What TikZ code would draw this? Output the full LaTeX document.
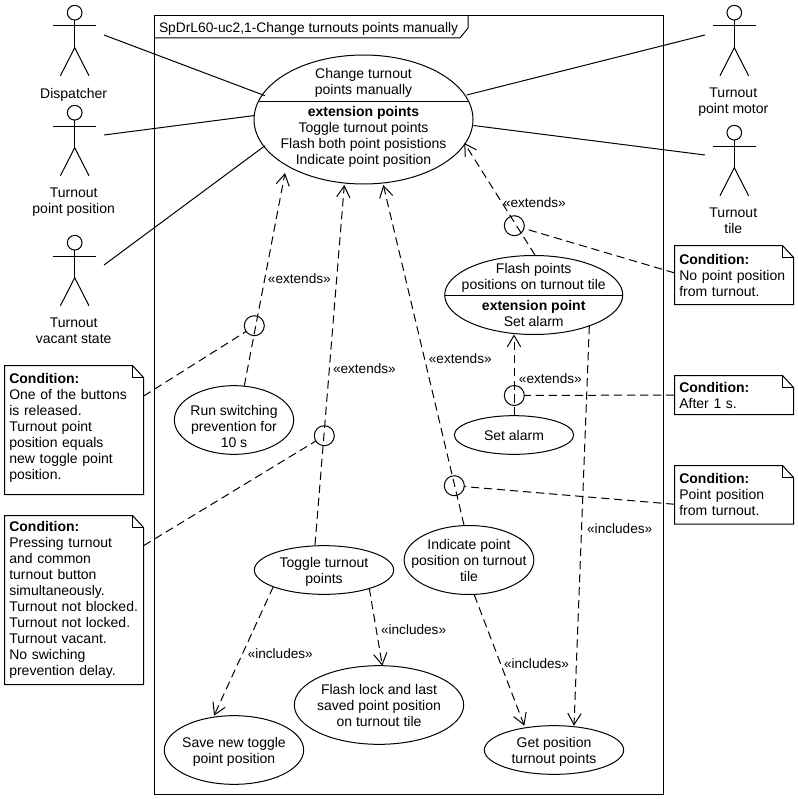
\documentclass[tikz,border=0pt]{standalone}
\usepackage{fontspec}
\setmainfont{Liberation Sans}
\usetikzlibrary{shapes.geometric,arrows.meta}

\begin{document}
\begin{tikzpicture}[x=0.75pt,y=-0.75pt,line width=0.75pt,>={Straight Barb[length=8.5pt,width=10pt]},
    font=\fontsize{10.5}{12}\selectfont,every node/.style={outer sep=0pt}]
\tikzstyle{usecase} = [draw, ellipse, inner sep=-12pt, align=center]
\tikzstyle{extpoint} = [draw, circle, inner sep=0pt, minimum size=15pt]
\tikzstyle{head} = [draw, circle, inner sep=0pt, minimum size=11pt]
\tikzstyle{actorname} = [anchor=north, inner sep=0pt, align=center]
\tikzstyle{notebox} = [anchor=north west, inner xsep=3.6pt, inner ysep=0pt, align=left]
\tikzstyle{dep} = [dash pattern=on 6.2pt off 3.6pt]
\tikzstyle{stereo} = [inner sep=0pt, yshift=-0.75pt, font=\fontsize{10.2}{12}\selectfont, solid]

\def\actor#1#2#3#4{
\node[head] (#1) at (#2,#3) {};
\draw (#1.south) -- ++(0,27.7) coordinate (#1hip);
\draw (#2-21.3,#3+13.3) -- (#2+21.3,#3+13.3);
\draw (#2-14.3,#3+63) -- (#1hip) -- (#2+14.3,#3+63);
\node[actorname] (#1name) at (#2-1,#3+75.5) {#4};
}

\def\notefold#1{
\draw ([xshift=-8.25pt]#1.north east) -- ([xshift=-8.25pt,yshift=-9pt]#1.north east) -- ([yshift=-9pt]#1.north east);
\draw (#1.south west) -- (#1.north west) -- ([xshift=-8.25pt]#1.north east) -- ([yshift=-9pt]#1.north east) -- (#1.south east) -- cycle;
}

\useasboundingbox (0,0) rectangle (798,799);

    % The frame and its title tab
    \node[draw, anchor=north west, inner sep=0pt, minimum width=381.75pt, minimum height=584.25pt] (frame) at (154.5,15.5) {};
    \node[anchor=west, inner sep=0pt, font=\fontsize{10.35}{12}\selectfont] (title) at (159,29) {SpDrL60-uc2,1-Change turnouts points manually};
    \coordinate (tabcorner) at (468,28);
    \coordinate (tabfoot) at (460,38);
    \draw (frame.north west -| tabcorner) -- (tabcorner) -- (tabfoot) -- (tabfoot -| frame.west);

    % Actors on both sides
    \actor{dispatcher}{74.7}{12.7}{Dispatcher}
    \actor{position}{74.7}{112.7}{Turnout\\point position}
    \actor{vacant}{74.7}{242.7}{Turnout\\vacant state}
    \actor{motor}{734.3}{12.7}{Turnout\\point motor}
    \actor{tile}{734.3}{132.7}{Turnout\\tile}

    % Use cases
    \node[usecase, minimum width=164.25pt, minimum height=96.75pt] (main) at (363.5,119.5)
        {Change turnout\\points manually\\[4.5pt]\textbf{extension points}\\Toggle turnout points\\Flash both point posistions\\Indicate point position\\[-7.9pt]\mbox{}};
    \node[usecase, minimum width=133.5pt, minimum height=59.25pt] (flash) at (533.7,295)
        {Flash points\\positions on turnout tile\\[3.75pt]\textbf{extension point}\\Set alarm};
    \node[usecase, minimum width=89.5pt, minimum height=29pt] (alarm) at (514,435) {Set alarm};
    \node[usecase, minimum width=89.5pt, minimum height=51.5pt] (run) at (234,420) {\mbox{}\\[5pt]Run switching\\prevention for\\10 s};
    \node[usecase, minimum width=97.25pt, minimum height=51.75pt] (indicate) at (469,560) {Indicate point\\position on turnout\\tile};
    \node[usecase, minimum width=104.5pt, minimum height=36.5pt] (toggle) at (324,570) {\mbox{}\\[-1pt]Toggle turnout\\points};
    \node[usecase, minimum width=104.5pt, minimum height=51.5pt] (save) at (234,750) {\mbox{}\\[-1pt]Save new toggle\\point position};
    \node[usecase, minimum width=127pt, minimum height=59pt] (lock) at (379,705) {Flash lock and last\\saved point position\\on turnout tile};
    \node[usecase, minimum width=104.5pt, minimum height=36.5pt] (get) at (554,750) {\mbox{}\\[-1pt]Get position\\turnout points};
    \draw ([shift={(-105.2,-18)}]main.center) -- ([shift={(105.2,-18)}]main.center);
    \draw (flash.180) -- (flash.0);

    % Extension points
    \node[extpoint] (flashpt) at (514.3,225.7) {};
    \node[extpoint] (alarmpt) at (514.3,395.5) {};
    \node[extpoint] (indicatept) at (454.3,485.7) {};
    \node[extpoint] (runpt) at (254.3,325.7) {};
    \node[extpoint] (togglept) at (324.3,435.7) {};

    % Notes
    \node[notebox, text width=82.05pt, minimum height=44.25pt] (noteflash) at (674.5,245.5)
        {\textbf{Condition:}\\No point position\\from turnout.};
    \node[notebox, text width=82.05pt, minimum height=29.25pt] (notealarm) at (674.5,375.5)
        {\textbf{Condition:}\\After 1 s.};
    \node[notebox, text width=82.05pt, minimum height=44pt] (noteindicate) at (674.5,465.5)
        {\textbf{Condition:}\\Point position\\from turnout.};
    \node[notebox, text width=97.05pt, minimum height=96.75pt] (noterun) at (4.5,365.5)
        {\textbf{Condition:}\\One of the buttons\\is released.\\Turnout point\\position equals\\new toggle point\\position.\\[-6pt]\mbox{}};
    \node[notebox, text width=97.05pt, minimum height=126.75pt] (notetoggle) at (4.5,515.5)
        {\textbf{Condition:}\\Pressing turnout\\and common\\turnout button\\simultaneously.\\Turnout not blocked.\\Turnout not locked.\\Turnout vacant.\\No swiching\\prevention delay.};
    \notefold{noteflash}
    \notefold{notealarm}
    \notefold{noteindicate}
    \notefold{noterun}
    \notefold{notetoggle}

    % Once everything is placed, the associations are plain lines
    \coordinate (dispatcherhand) at (104,35);
    \coordinate (positionhand) at (104,135);
    \coordinate (vacanthand) at (104,265);
    \coordinate (motorhand) at (705,35);
    \coordinate (tilehand) at (705,155);
    \draw (dispatcherhand) -- ([shift={(-98.5,-23.8)}]main.center);
    \draw (positionhand) -- ([shift={(-108.9,-4)}]main.center);
    \draw (vacanthand) -- ([shift={(-98.5,26.2)}]main.center);
    \draw ([shift={(103.2,-24.5)}]main.center) -- (motorhand);
    \draw ([shift={(110,6)}]main.center) -- (tilehand);

    % Extends
    \draw[dep,->] ([shift={(1.3,-40)}]flash.center) -- node[stereo, pos=.473, right=1.1pt] (flashext) {«extends»} ([shift={(100.8,23.5)}]main.center);
    \draw[dep,->] (alarm.north) -- node[stereo, pos=.467, right=3.7pt] (alarmext) {«extends»} (alarm.north |- flash.south);
    \draw[dep,->] ([shift={(-5,-35)}]indicate.center) -- node[stereo, pos=.491, right=3.4pt] (indicateext) {«extends»} ([shift={(19.8,65.5)}]main.center);
    \draw[dep,->] ([shift={(10.3,-34.3)}]run.center) -- node[stereo, pos=.506, right=2.3pt] (runext) {«extends»} ([shift={(-78.5,53.5)}]main.center);
    \draw[dep,->] ([shift={(-9,-25)}]toggle.center) -- node[stereo, pos=.492, right=2.7pt] (toggleext) {«extends»} ([shift={(-19.2,65.5)}]main.center);

    % Includes
    \draw[dep,->] ([shift={(-50.7,16.7)}]toggle.center) -- node[stereo, pos=.514, right=3.7pt] (saveinc) {«includes»} ([shift={(-20,-34.3)}]save.center);
    \draw[dep,->] ([shift={(45.3,18.3)}]toggle.center) -- node[stereo, pos=.526, right=3.7pt] (lockinc) {«includes»} ([shift={(3.3,-39.3)}]lock.center);
    \draw[dep,->] ([shift={(5.3,35)}]indicate.center) -- node[stereo, pos=.52, right=2.8pt] (indicateinc) {«includes»} ([shift={(-29.7,-24.3)}]get.center);
    \draw[dep,->] ([shift={(55.6,31)}]flash.center) -- node[stereo, pos=.505, right=4.2pt] (flashinc) {«includes»} ([shift={(20,-24.3)}]get.center);

    % Conditions to their extension points
    \draw[dep] (noteflash.178.6) -- (flashpt.-16.3);
    \draw[dep] (notealarm.west) -- (alarmpt.east);
    \draw[dep] (noteindicate.189.8) -- (indicatept.-5.3);
    \draw[dep] (noterun.26.4) -- (runpt.215);
    \draw[dep] (notetoggle.38.4) -- (togglept.212.8);

\end{tikzpicture}
\end{document}
